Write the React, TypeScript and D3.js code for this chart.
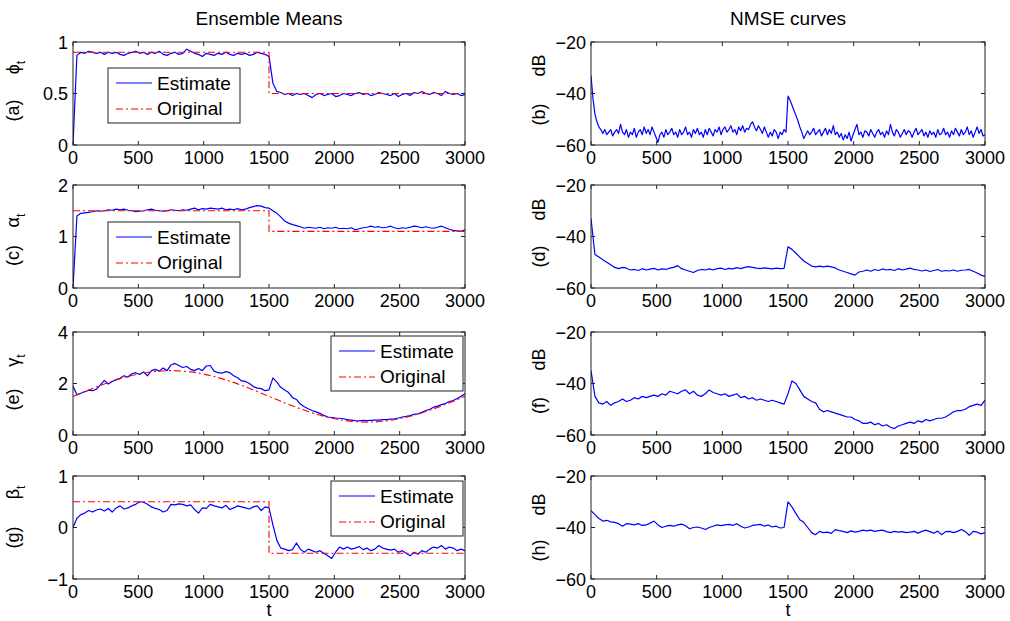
import React from "react";
import * as d3 from "d3";

// ---------- data ----------
const X_TICKS = [0, 500, 1000, 1500, 2000, 2500, 3000];
const T_STEP = 30; // estimates sampled every 30 time steps (0..3000)
const T_STEP_FINE = 15; // NMSE of phi read every 15 time steps

const EST_PHI = [0, 0.87, 0.9, 0.89, 0.91, 0.9, 0.89, 0.9, 0.88, 0.9,
  0.89, 0.9, 0.88, 0.87, 0.89, 0.9, 0.91, 0.89, 0.9, 0.88,
  0.9, 0.89, 0.91, 0.88, 0.87, 0.89, 0.9, 0.88, 0.89, 0.93,
  0.91, 0.89, 0.88, 0.86, 0.89, 0.88, 0.87, 0.89, 0.88, 0.9,
  0.88, 0.87, 0.89, 0.88, 0.89, 0.87, 0.88, 0.9, 0.89, 0.88,
  0.86, 0.6, 0.52, 0.51, 0.49, 0.5, 0.48, 0.5, 0.49, 0.5,
  0.48, 0.46, 0.49, 0.5, 0.48, 0.49, 0.5, 0.47, 0.48, 0.5,
  0.49, 0.48, 0.5, 0.51, 0.49, 0.5, 0.48, 0.49, 0.51, 0.5,
  0.49, 0.48, 0.5, 0.47, 0.49, 0.5, 0.48, 0.51, 0.5, 0.52,
  0.5, 0.49, 0.51, 0.5, 0.48, 0.52, 0.5, 0.49, 0.5, 0.48,
  0.49];

const EST_ALPHA = [0, 1.4, 1.45, 1.46, 1.47, 1.48, 1.5, 1.49, 1.5, 1.52,
  1.51, 1.53, 1.52, 1.53, 1.51, 1.5, 1.48, 1.49, 1.5, 1.52,
  1.53, 1.51, 1.5, 1.49, 1.5, 1.52, 1.51, 1.5, 1.52, 1.51,
  1.53, 1.55, 1.52, 1.54, 1.53, 1.55, 1.54, 1.53, 1.55, 1.52,
  1.53, 1.52, 1.54, 1.52, 1.53, 1.56, 1.58, 1.6, 1.59, 1.56,
  1.55, 1.5, 1.45, 1.38, 1.3, 1.26, 1.23, 1.21, 1.19, 1.16,
  1.18, 1.17, 1.16, 1.18, 1.15, 1.17, 1.16, 1.18, 1.15, 1.16,
  1.15, 1.17, 1.13, 1.15, 1.17, 1.18, 1.2, 1.18, 1.19, 1.17,
  1.18, 1.2, 1.17, 1.15, 1.17, 1.16, 1.18, 1.2, 1.19, 1.17,
  1.19, 1.17, 1.16, 1.18, 1.2, 1.17, 1.14, 1.12, 1.11, 1.1,
  1.13];

const EST_GAMMA = [1.9, 1.56, 1.62, 1.68, 1.74, 1.72, 1.78, 1.95, 2.12, 1.98,
  2.08, 2.15, 2.2, 2.3, 2.25, 2.38, 2.42, 2.35, 2.45, 2.3,
  2.5, 2.55, 2.48, 2.6, 2.5, 2.72, 2.78, 2.7, 2.62, 2.66,
  2.55, 2.5, 2.58, 2.5, 2.68, 2.7, 2.48, 2.42, 2.4, 2.46,
  2.42, 2.3, 2.22, 2.1, 2.08, 2.0, 1.88, 1.82, 1.8, 1.72,
  1.75, 2.22, 2.05, 1.85, 1.75, 1.65, 1.45, 1.38, 1.2, 1.1,
  1.02, 0.95, 0.9, 0.84, 0.76, 0.7, 0.68, 0.66, 0.65, 0.63,
  0.6, 0.58, 0.56, 0.55, 0.57, 0.56, 0.57, 0.58, 0.58, 0.6,
  0.6, 0.62, 0.63, 0.66, 0.7, 0.72, 0.75, 0.8, 0.82, 0.88,
  0.95, 1.0, 1.08, 1.12, 1.18, 1.22, 1.3, 1.34, 1.42, 1.5,
  1.6];

const EST_BETA = [0, 0.18, 0.25, 0.28, 0.33, 0.3, 0.34, 0.36, 0.32, 0.37,
  0.3, 0.38, 0.42, 0.36, 0.38, 0.42, 0.45, 0.5, 0.49, 0.45,
  0.4, 0.37, 0.35, 0.3, 0.33, 0.45, 0.44, 0.46, 0.45, 0.42,
  0.44, 0.35, 0.28, 0.38, 0.37, 0.45, 0.42, 0.4, 0.38, 0.43,
  0.35, 0.38, 0.42, 0.4, 0.38, 0.36, 0.4, 0.42, 0.33, 0.4,
  0.38, 0.05, -0.25, -0.4, -0.42, -0.45, -0.43, -0.3, -0.42, -0.48,
  -0.42, -0.45, -0.48, -0.45, -0.5, -0.55, -0.6, -0.48, -0.38, -0.42,
  -0.38, -0.42, -0.4, -0.37, -0.43, -0.4, -0.45, -0.42, -0.35, -0.4,
  -0.42, -0.44, -0.42, -0.48, -0.45, -0.5, -0.55, -0.48, -0.52, -0.45,
  -0.48, -0.42, -0.38, -0.4, -0.35, -0.42, -0.38, -0.4, -0.45, -0.42,
  -0.45];

const NMSE_PHI = [-33, -42, -48, -51, -53, -54, -55.5, -54, -56, -55,
  -54, -56.5, -55, -54, -55.5, -52, -55, -56, -54, -57,
  -55, -56, -53.5, -57, -55, -54, -56, -53, -55.5, -54,
  -56, -53, -55, -57, -59, -56, -55, -57, -54, -56,
  -55, -53.5, -56, -55, -57, -54, -56, -55, -53, -56,
  -55, -57, -54, -55.5, -53.5, -56, -55, -57, -54, -56,
  -53.5, -55, -56.5, -54, -55, -53, -56, -54, -53, -55,
  -54, -52.5, -55, -54, -56, -53, -54.5, -52.5, -55, -53.5,
  -54, -52, -51, -53, -54.5, -52.5, -54, -55.5, -53, -55,
  -57, -55, -56.5, -54, -55, -57.5, -55, -56, -54, -55,
  -41, -42.5, -44.5, -46.5, -48.5, -50.5, -53, -55, -57.5, -56,
  -54.5, -56, -55, -53.5, -56, -55, -54, -56.5, -55, -53.5,
  -56, -54, -55.5, -52.5, -56, -55, -57, -55.5, -58, -56,
  -57.5, -55, -58.5, -56, -54, -52, -56, -55, -57, -54.5,
  -55, -56.5, -54, -55.5, -57, -55, -54, -56, -55, -57,
  -54.5, -56, -52, -55, -56.5, -54, -55, -57, -55.5, -54,
  -56, -54.5, -55, -57, -55, -53.5, -56, -55, -54, -56.5,
  -55, -57, -54.5, -56, -55, -57, -54, -56, -55.5, -53.5,
  -56, -55, -57, -54.5, -56, -53.5, -55, -56.5, -54, -56,
  -55, -53, -56, -54.5, -57, -55, -53, -55.5, -54, -56.5,
  -56];

const NMSE_ALPHA = [-33, -47, -48, -49, -50, -51, -52, -52.5, -52, -52.3,
  -53, -52.8, -53.2, -52.5, -53, -52.7, -52.4, -53, -52.6, -52.8,
  -52.3, -52, -51.3, -52.5, -53, -53.5, -54, -53.2, -52.8, -53,
  -52.6, -53, -52.5, -52.3, -52.8, -52.4, -52.6, -52.1, -52.5, -52,
  -51.7, -52, -52.3, -52.5, -52.2, -52.4, -52.6, -52.3, -52.5, -52.4,
  -44, -45, -46.5, -48, -49.5, -50.5, -51.5, -51.8, -51.5, -51.8,
  -51.5, -51.8, -52.2, -53, -53.5, -54, -54.5, -55, -53.8, -53.5,
  -53, -53.5, -52.8, -53.2, -52.6, -53, -52.8, -53.2, -52.5, -53,
  -52.7, -52.3, -52.8, -53, -53.4, -53, -53.6, -53.2, -52.8, -53.5,
  -53.2, -53.4, -53, -53.5, -53.1, -53, -52.8, -53.5, -54.2, -55,
  -55.5];

const NMSE_GAMMA = [-35, -45, -47.5, -48, -47, -48.5, -47.5, -47, -46, -47,
  -46.5, -45.5, -46, -45, -45.5, -45, -44.5, -45, -44, -44.5,
  -43, -43.5, -44, -43, -42.5, -44, -43, -44.5, -45, -44,
  -42.5, -43.5, -44, -44.5, -44, -45, -44.5, -44, -45.5, -45,
  -46, -45.5, -46.5, -46, -46.5, -47, -46.5, -47, -47.5, -48,
  -44, -39, -40, -42.5, -45, -46, -47, -47.5, -50, -51,
  -50.5, -51, -51.5, -52, -52.5, -53, -53, -54, -54.5, -55.5,
  -55.5, -55, -56, -55.5, -56.5, -56, -57, -57.5, -56.5, -56,
  -55.5, -55, -55.5, -54.5, -55, -54, -54.5, -54, -53.5, -53.5,
  -53, -52, -51, -50.5, -50.5, -50, -49, -48.5, -48, -48.5,
  -46.5];

const NMSE_BETA = [-33.5, -35, -36.5, -37.5, -37.2, -37.8, -38, -38.5, -39.5, -38.5,
  -38.7, -39, -38.5, -39.2, -39, -38.3, -37.5, -39, -40, -39.5,
  -39.2, -39.5, -39, -38.7, -39.3, -40.5, -40, -39.8, -40.2, -40.8,
  -40, -39.5, -39, -39.3, -39, -38.8, -39.2, -38.5, -39.5, -40.2,
  -39.8, -39.2, -39, -38.8, -39.5, -39, -39.8, -39.5, -40.2, -40,
  -30, -32, -34.5, -37, -38, -40, -42, -42.8, -41.5, -42,
  -41.8, -42.3, -40.8, -41.2, -41.5, -42, -41.3, -41.8, -41.5, -41,
  -41.3, -41, -41.5, -41.2, -41, -41.6, -42, -41.5, -41.8, -41.6,
  -42, -41.8, -41.5, -42.2, -41.5, -41, -41.6, -42.2, -41.4, -42.8,
  -41.6, -41.5, -42, -41.5, -40.8, -41.6, -43, -41.5, -41.8, -42.5,
  -42];

const ORIG_STEP_T = [0, 1500, 1500, 3000];
const ORIG_PHI = [0.9, 0.9, 0.5, 0.5];
const ORIG_ALPHA = [1.5, 1.5, 1.1, 1.1];
const ORIG_BETA = [0.5, 0.5, -0.5, -0.5];
const ORIG_GAMMA_T = [0, 150, 300, 450, 600, 750, 900, 1050, 1200, 1350, 1500,
  1650, 1800, 1950, 2100, 2250, 2400, 2550, 2700, 2850, 3000];
const ORIG_GAMMA = [1.5, 1.81, 2.09, 2.31, 2.45, 2.5, 2.45, 2.31, 2.09, 1.81, 1.5,
  1.19, 0.91, 0.69, 0.55, 0.5, 0.55, 0.69, 0.91, 1.19, 1.5];

const Y_TICKS_PHI = [0, 0.5, 1];
const Y_TICKS_ALPHA = [0, 1, 2];
const Y_TICKS_GAMMA = [0, 2, 4];
const Y_TICKS_BETA = [-1, 0, 1];
const Y_TICKS_DB = [-60, -40, -20];

// ---------- drawing ----------
const FONT = "'Liberation Sans', Arial, Helvetica, sans-serif";
const AXIS = "#222";
const BLUE = "#0000ff";
const RED = "#ff0000";
const DASHDOT = "7,3,2,3";

const LEFT_X = 73;
const LEFT_W = 392;
const RIGHT_X = 591;
const RIGHT_W = 394;
const ROW_TOP = [42, 185, 332, 476];
const ROW_H = 103;

function fmt(v: number) {
  return String(v).replace("-", "\u2212");
}

type PanelProps = {
  id: string;
  left: number;
  top: number;
  width: number;
  height: number;
  yDomain: [number, number];
  yTicks: number[];
  est: number[];
  step?: number;
  origT?: number[];
  orig?: number[];
  origCurve?: boolean;
  legend?: { dx: number; dy: number };
  tag: string;
  sym: string;
  sub?: string;
  tagOff: number;
  symOff: number;
  labelX: number;
  xlabel?: boolean;
};

function Panel(p: PanelProps) {
  const x = d3.scaleLinear().domain([0, 3000]).range([p.left, p.left + p.width]);
  const y = d3.scaleLinear().domain(p.yDomain).range([p.top + p.height, p.top]);
  const step = p.step ?? T_STEP;
  const estLine = d3.line<[number, number]>().x((d) => x(d[0])).y((d) => y(d[1]));
  const estPts: [number, number][] = p.est.map((v, i) => [i * step, v]);
  const estPath = estLine(estPts);
  let origPath: string | null = null;
  if (p.orig && p.origT) {
    const pts: [number, number][] = p.orig.map((v, i) => [p.origT![i], v]);
    const l = d3
      .line<[number, number]>()
      .x((d) => x(d[0]))
      .y((d) => y(d[1]))
      .curve(p.origCurve ? d3.curveMonotoneX : d3.curveLinear);
    origPath = l(pts);
  }
  const tl = 4;
  const mid = p.top + p.height / 2;
  const bottom = p.top + p.height;
  const right = p.left + p.width;
  const lg = p.legend;
  return (
    <g>
      <defs>
        <clipPath id={"clip-" + p.id}>
          <rect x={p.left} y={p.top} width={p.width} height={p.height} />
        </clipPath>
      </defs>
      <rect x={p.left} y={p.top} width={p.width} height={p.height} fill="#fff" />
      <g clipPath={`url(#clip-${p.id})`}>
        <path d={estPath || ""} fill="none" stroke={BLUE} strokeWidth={1.2} strokeLinejoin="round" />
        {origPath && (
          <path d={origPath} fill="none" stroke={RED} strokeWidth={1.1} strokeDasharray={DASHDOT} />
        )}
      </g>
      <rect x={p.left} y={p.top} width={p.width} height={p.height} fill="none" stroke={AXIS} strokeWidth={1} />
      {X_TICKS.map((t) => (
        <g key={"xt" + t}>
          <line x1={x(t)} x2={x(t)} y1={bottom} y2={bottom - tl} stroke={AXIS} />
          <line x1={x(t)} x2={x(t)} y1={p.top} y2={p.top + tl} stroke={AXIS} />
          <text x={x(t)} y={bottom + 19} textAnchor="middle" fontSize={18} fontFamily={FONT} fill="#000">
            {t}
          </text>
        </g>
      ))}
      {p.yTicks.map((t) => (
        <g key={"yt" + t}>
          <line x1={p.left} x2={p.left + tl} y1={y(t)} y2={y(t)} stroke={AXIS} />
          <line x1={right} x2={right - tl} y1={y(t)} y2={y(t)} stroke={AXIS} />
          <text x={p.left - 5} y={y(t) + 6.5} textAnchor="end" fontSize={18} fontFamily={FONT} fill="#000">
            {fmt(t)}
          </text>
        </g>
      ))}
      <text transform={`translate(${p.labelX},${mid + p.tagOff}) rotate(-90)`} textAnchor="middle" fontSize={18} fontFamily={FONT} fill="#000">
        {p.tag}
      </text>
      <text transform={`translate(${p.labelX},${mid + p.symOff}) rotate(-90)`} textAnchor="middle" fontSize={18} fontFamily={FONT} fill="#000">
        {p.sym}
        {p.sub && (
          <tspan fontSize={12} dy={6}>
            {p.sub}
          </tspan>
        )}
      </text>
      {lg && (
        <g>
          <rect x={p.left + lg.dx} y={p.top + lg.dy} width={132} height={55} fill="#fff" stroke={AXIS} strokeWidth={1} />
          <line x1={p.left + lg.dx + 8} x2={p.left + lg.dx + 44} y1={p.top + lg.dy + 15} y2={p.top + lg.dy + 15} stroke={BLUE} strokeWidth={1.2} />
          <line x1={p.left + lg.dx + 8} x2={p.left + lg.dx + 44} y1={p.top + lg.dy + 41} y2={p.top + lg.dy + 41} stroke={RED} strokeWidth={1.1} strokeDasharray={DASHDOT} />
          <text x={p.left + lg.dx + 49} y={p.top + lg.dy + 22} fontSize={19} fontFamily={FONT} fill="#000">
            Estimate
          </text>
          <text x={p.left + lg.dx + 49} y={p.top + lg.dy + 47} fontSize={19} fontFamily={FONT} fill="#000">
            Original
          </text>
        </g>
      )}
      {p.xlabel && (
        <text x={(p.left + right) / 2} y={bottom + 37} textAnchor="middle" fontSize={18} fontFamily={FONT} fill="#000">
          t
        </text>
      )}
    </g>
  );
}

export default function App() {
  const leftPanels = [
    { id: "a", est: EST_PHI, orig: ORIG_PHI, origT: ORIG_STEP_T, yDomain: [0, 1] as [number, number], yTicks: Y_TICKS_PHI, tag: "(a)", sym: "\u03d5", tagOff: 17, symOff: -26, legend: { dx: 35, dy: 26 } },
    { id: "c", est: EST_ALPHA, orig: ORIG_ALPHA, origT: ORIG_STEP_T, yDomain: [0, 2] as [number, number], yTicks: Y_TICKS_ALPHA, tag: "(c)", sym: "\u03b1", tagOff: 19, symOff: -16, legend: { dx: 35, dy: 37 } },
    { id: "e", est: EST_GAMMA, orig: ORIG_GAMMA, origT: ORIG_GAMMA_T, origCurve: true, yDomain: [0, 4] as [number, number], yTicks: Y_TICKS_GAMMA, tag: "(e)", sym: "\u03b3", tagOff: 16, symOff: -23, legend: { dx: 258, dy: 4 } },
    { id: "g", est: EST_BETA, orig: ORIG_BETA, origT: ORIG_STEP_T, yDomain: [-1, 1] as [number, number], yTicks: Y_TICKS_BETA, tag: "(g)", sym: "\u03b2", tagOff: 10, symOff: -35, legend: { dx: 258, dy: 5 } },
  ];
  const rightPanels = [
    { id: "b", est: NMSE_PHI, step: T_STEP_FINE, tag: "(b)", tagOff: 21, symOff: -28 },
    { id: "d", est: NMSE_ALPHA, tag: "(d)", tagOff: 20, symOff: -27 },
    { id: "f", est: NMSE_GAMMA, tag: "(f)", tagOff: 22, symOff: -24 },
    { id: "h", est: NMSE_BETA, tag: "(h)", tagOff: 23, symOff: -23 },
  ];
  return (
    <svg width={1010} height={621} viewBox="0 0 1010 621" style={{ display: "block", position: "absolute", left: 0, top: 0, background: "#fff" }}>
      <rect x={0} y={0} width={1010} height={621} fill="#fff" />
      <text x={LEFT_X + LEFT_W / 2} y={25} textAnchor="middle" fontSize={19} fontFamily={FONT} fill="#000">
        Ensemble Means
      </text>
      <text x={RIGHT_X + RIGHT_W / 2} y={25} textAnchor="middle" fontSize={19} fontFamily={FONT} fill="#000">
        NMSE curves
      </text>
      {leftPanels.map((p, i) => (
        <Panel key={p.id} {...p} sub="t" left={LEFT_X} top={ROW_TOP[i]} width={LEFT_W} height={ROW_H} labelX={19} xlabel={i === 3} />
      ))}
      {rightPanels.map((p, i) => (
        <Panel key={p.id} {...p} sym="dB" left={RIGHT_X} top={ROW_TOP[i]} width={RIGHT_W} height={ROW_H} yDomain={[-60, -20]} yTicks={Y_TICKS_DB} labelX={545} xlabel={i === 3} />
      ))}
    </svg>
  );
}
